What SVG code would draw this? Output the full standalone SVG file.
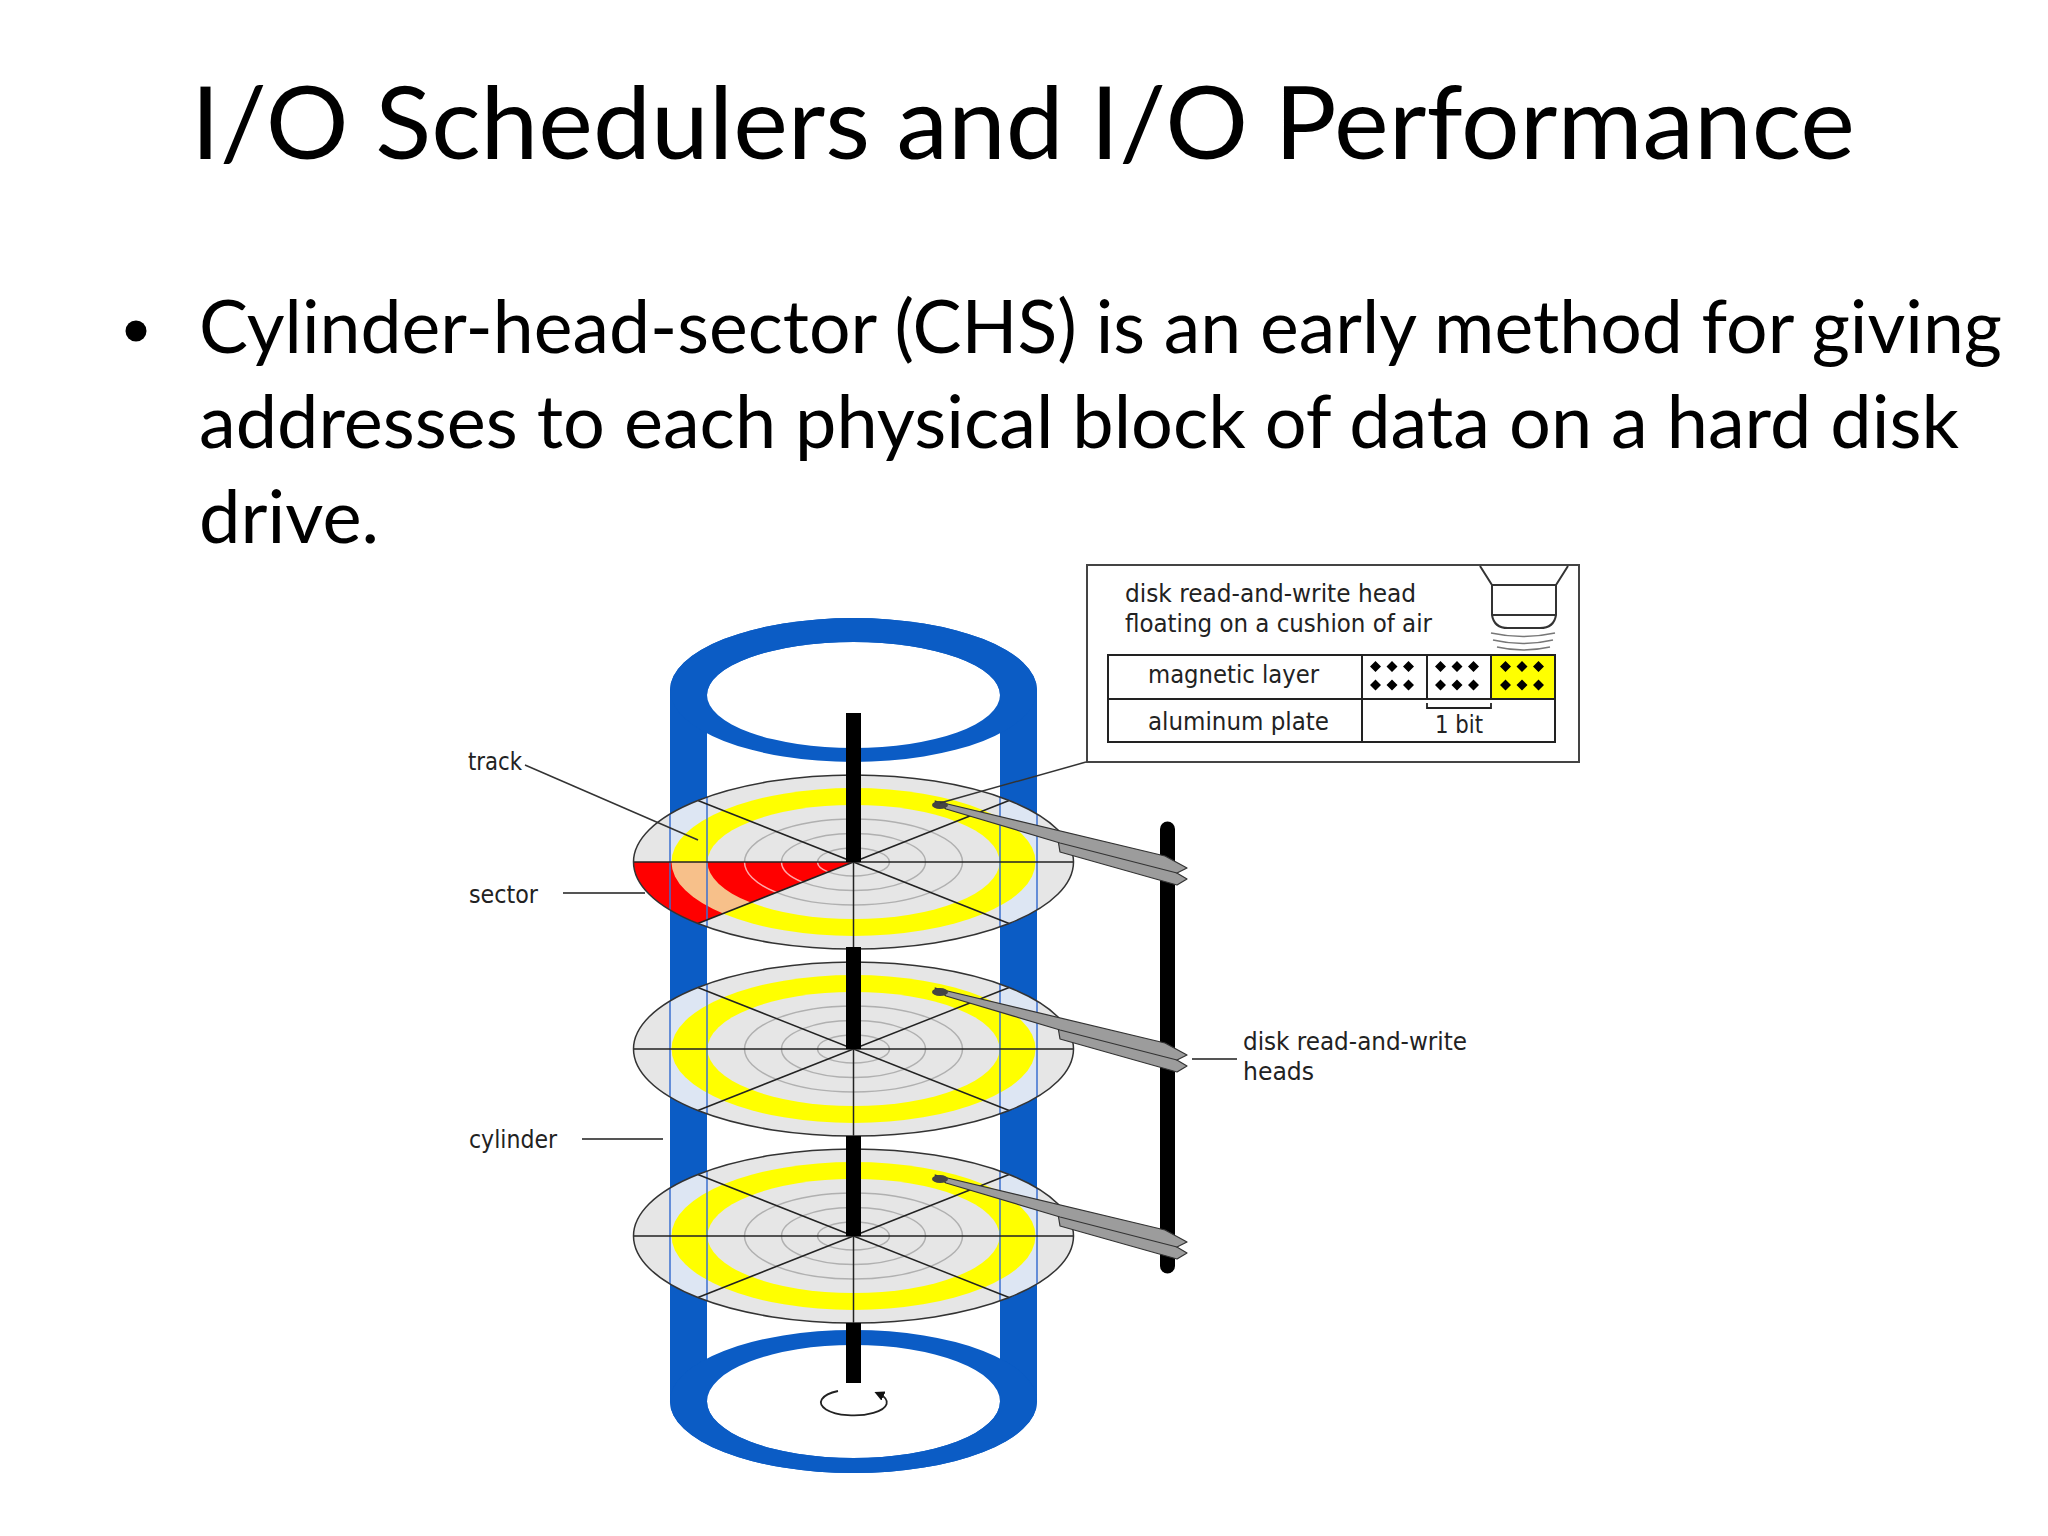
<svg xmlns="http://www.w3.org/2000/svg" xmlns:xlink="http://www.w3.org/1999/xlink" width="2048" height="1536" viewBox="0 0 2048 1536">
<style>
.title{font-family:Lato,"Open Sans","Liberation Sans",sans-serif;font-size:100px;fill:#000}
.body{font-family:Lato,"Open Sans","Liberation Sans",sans-serif;font-size:73px;fill:#000}
.lbl{font-family:"DejaVu Sans Condensed","DejaVu Sans","Liberation Sans",sans-serif;font-size:24px;fill:#222}
.lbl23{font-size:25px}
.lead{stroke:#555;stroke-width:2.2;fill:none}
.thin{stroke:#333;stroke-width:1.5;fill:none}
.blue{fill:#0b5cc5}
.plate{fill:#9c9c9c;stroke:#333;stroke-width:1.2;stroke-linejoin:round}
.spindle{stroke:#000;stroke-width:15}
.dia{fill:#000}
.tbl{stroke:#222;stroke-width:2;fill:none}
</style>
<defs>
  <clipPath id="pclip"><ellipse cx="0" cy="0" rx="220" ry="87"/></clipPath>
  <clipPath id="sectorClip"><path d="M0,0 L-220,0 A220,87 0 0,0 -155.6,61.5 Z"/></clipPath>
  <g id="pfill">
    <ellipse cx="0" cy="0" rx="220" ry="87" fill="#e6e6e6"/>
    <g clip-path="url(#pclip)">
      <rect x="-183.5" y="-90" width="37" height="180" fill="#dde6f3"/>
      <rect x="146.5" y="-90" width="37" height="180" fill="#dde6f3"/>
    </g>
    <ellipse cx="0" cy="0" rx="182" ry="74" fill="#ffff00"/>
    <ellipse cx="0" cy="0" rx="146" ry="57" fill="#e6e6e6"/>
    <g fill="none" stroke="#b0b0b0" stroke-width="1.5">
      <ellipse cx="0" cy="0" rx="109" ry="43"/>
      <ellipse cx="0" cy="0" rx="72" ry="28.5"/>
      <ellipse cx="0" cy="0" rx="36" ry="14"/>
    </g>
  </g>
  <g id="plines">
    <g stroke="#3a6fd0" stroke-width="1.5">
      <line x1="-183.5" y1="-48" x2="-183.5" y2="48"/>
      <line x1="-146.5" y1="-65" x2="-146.5" y2="65"/>
      <line x1="146.5" y1="-65" x2="146.5" y2="65"/>
      <line x1="183.5" y1="-48" x2="183.5" y2="48"/>
    </g>
    <g stroke="#222" stroke-width="1.5">
      <line x1="-220" y1="0" x2="220" y2="0"/>
      <line x1="0" y1="-87" x2="0" y2="87"/>
      <line x1="-155.6" y1="-61.5" x2="155.6" y2="61.5"/>
      <line x1="-155.6" y1="61.5" x2="155.6" y2="-61.5"/>
    </g>
    <ellipse cx="0" cy="0" rx="220" ry="87" fill="none" stroke="#333" stroke-width="1.5"/>
  </g>
  <g id="arm">
    <path class="plate" d="M1058,840 L1165,866 L1187,879 L1177,885 L1060,852 Z"/>
    <path class="plate" d="M935,801 L1165,856 L1187,868 L1177,873 L1060,843 L946,809 Z"/>
    <ellipse cx="940" cy="805" rx="8" ry="4" fill="#444"/>
  </g>
  <marker id="arr" viewBox="0 0 10 10" refX="5" refY="5" markerWidth="10" markerHeight="10" markerUnits="userSpaceOnUse" orient="auto">
    <path d="M0,0 L10,5 L0,10 Z" fill="#111"/>
  </marker>
</defs>
<rect x="0" y="0" width="2048" height="1536" fill="#fff"/>

<g id="title">
  <text class="title" x="191" y="159" textLength="1664" lengthAdjust="spacingAndGlyphs">I/O Schedulers and I/O Performance</text>
</g>

<g id="bullet">
  <circle cx="136" cy="331" r="10.5" fill="#000"/>
  <text class="body" x="199" y="353" textLength="1803" lengthAdjust="spacingAndGlyphs">Cylinder-head-sector (CHS) is an early method for giving</text>
  <text class="body" x="199" y="448" textLength="1760" lengthAdjust="spacingAndGlyphs">addresses to each physical block of data on a hard disk</text>
  <text class="body" x="199" y="543" textLength="180" lengthAdjust="spacingAndGlyphs">drive.</text>
</g>

<g id="cylinder">
  <ellipse cx="853.5" cy="690" rx="183.5" ry="72" class="blue"/>
  <rect x="670" y="690" width="367" height="711.5" class="blue"/>
  <ellipse cx="853.5" cy="1401.5" rx="183.5" ry="71.5" class="blue"/>
  <ellipse cx="853.5" cy="695" rx="146.5" ry="53" fill="#fff"/>
  <rect x="707" y="695" width="293" height="706.5" fill="#fff"/>
  <ellipse cx="853.5" cy="1401.5" rx="146.5" ry="56.5" fill="#fff"/>
  <path class="blue" fill-rule="evenodd" d="M670,690 A183.5,72 0 1,0 1037,690 A183.5,72 0 1,0 670,690 Z M707,695 A146.5,53 0 1,0 1000,695 A146.5,53 0 1,0 707,695 Z"/>
  <path class="blue" fill-rule="evenodd" d="M670,1401.5 A183.5,71.5 0 1,0 1037,1401.5 A183.5,71.5 0 1,0 670,1401.5 Z M707,1401.5 A146.5,56.5 0 1,0 1000,1401.5 A146.5,56.5 0 1,0 707,1401.5 Z"/>
</g>

<g id="platter-1">
  <g transform="translate(853.5,862)">
    <use xlink:href="#pfill" href="#pfill"/>
    <g clip-path="url(#sectorClip)">
      <rect x="-230" y="0" width="240" height="100" fill="#ff0000"/>
      <path fill="#f7c08a" fill-rule="evenodd" d="M-182,0 A182,74 0 1,0 182,0 A182,74 0 1,0 -182,0 Z M-146,0 A146,57 0 1,0 146,0 A146,57 0 1,0 -146,0 Z"/>
      <g fill="none" stroke="#ffa8a8" stroke-width="1.5">
        <ellipse cx="0" cy="0" rx="109" ry="43"/>
        <ellipse cx="0" cy="0" rx="72" ry="28.5"/>
        <ellipse cx="0" cy="0" rx="36" ry="14"/>
      </g>
    </g>
    <use xlink:href="#plines" href="#plines"/>
  </g>
  <line class="spindle" x1="853.5" y1="713" x2="853.5" y2="862"/>
</g>

<g id="platter-2">
  <g transform="translate(853.5,1049)">
    <use xlink:href="#pfill" href="#pfill"/>
    <use xlink:href="#plines" href="#plines"/>
  </g>
  <line class="spindle" x1="853.5" y1="947" x2="853.5" y2="1049"/>
</g>

<g id="platter-3">
  <g transform="translate(853.5,1236)">
    <use xlink:href="#pfill" href="#pfill"/>
    <use xlink:href="#plines" href="#plines"/>
  </g>
  <line class="spindle" x1="853.5" y1="1136" x2="853.5" y2="1236"/>
</g>

<g id="spindle-bottom">
  <line class="spindle" x1="853.5" y1="1323" x2="853.5" y2="1383"/>
  <path d="M838,1391 A33,13 0 1,0 879,1394" fill="none" stroke="#222" stroke-width="1.8" marker-end="url(#arr)"/>
</g>

<g id="heads">
  <line x1="1167.5" y1="829" x2="1167.5" y2="1266" stroke="#000" stroke-width="15" stroke-linecap="round"/>
  <use xlink:href="#arm" href="#arm"/>
  <use xlink:href="#arm" href="#arm" transform="translate(0,187)"/>
  <use xlink:href="#arm" href="#arm" transform="translate(0,374)"/>
</g>

<g id="connectors">
  <path class="thin" d="M525,765 L698,840"/>
  <path class="lead" d="M563,893 L645,893"/>
  <path class="lead" d="M582,1139 L663,1139"/>
  <path class="lead" d="M1192,1059 L1237,1059"/>
  <path class="thin" d="M940,803 L1086,762"/>
  <path class="thin" d="M1417,593 L1486,621"/>
</g>

<g id="label-track"><text class="lbl" x="468" y="770" textLength="54" lengthAdjust="spacingAndGlyphs">track</text></g>
<g id="label-sector"><text class="lbl" x="469" y="903" textLength="69" lengthAdjust="spacingAndGlyphs">sector</text></g>
<g id="label-cylinder"><text class="lbl" x="469" y="1148" textLength="88" lengthAdjust="spacingAndGlyphs">cylinder</text></g>
<g id="label-heads">
  <text class="lbl lbl23" x="1243" y="1050" textLength="224" lengthAdjust="spacingAndGlyphs">disk read-and-write</text>
  <text class="lbl lbl23" x="1243" y="1080" textLength="71" lengthAdjust="spacingAndGlyphs">heads</text>
</g>

<g id="inset">
  <rect x="1087" y="565" width="492" height="197" fill="#fff" stroke="#444" stroke-width="2"/>
  <text class="lbl lbl23" x="1125" y="602" textLength="291" lengthAdjust="spacingAndGlyphs">disk read-and-write head</text>
  <text class="lbl lbl23" x="1125" y="632" textLength="307" lengthAdjust="spacingAndGlyphs">floating on a cushion of air</text>
  <path d="M1480,566 L1492,585 L1492,615 Q1494,628 1508,628 L1540,628 Q1554,628 1556,615 L1556,585 L1568,566 M1492,585 L1556,585 M1492,615 L1556,615" fill="#fff" stroke="#333" stroke-width="2"/>
  <g fill="none" stroke="#777" stroke-width="1.5">
    <path d="M1491,633 Q1523,640 1555,633"/>
    <path d="M1493,640 Q1523,647 1553,640"/>
    <path d="M1497,647 Q1523,653 1550,647"/>
  </g>
  <rect x="1491" y="655" width="64" height="44" fill="#ffff00"/>
  <rect class="tbl" x="1108" y="655" width="447" height="87"/>
  <path class="tbl" d="M1108,699 L1555,699 M1362,655 L1362,742 M1427,655 L1427,699 M1491,655 L1491,699"/>
  <g class="dia">
    <path d="M1375.5,661 l5.5,5.5 l-5.5,5.5 l-5.5,-5.5 Z M1392,661 l5.5,5.5 l-5.5,5.5 l-5.5,-5.5 Z M1408.5,661 l5.5,5.5 l-5.5,5.5 l-5.5,-5.5 Z"/>
    <path d="M1375.5,679.5 l5.5,5.5 l-5.5,5.5 l-5.5,-5.5 Z M1392,679.5 l5.5,5.5 l-5.5,5.5 l-5.5,-5.5 Z M1408.5,679.5 l5.5,5.5 l-5.5,5.5 l-5.5,-5.5 Z"/>
    <path d="M1440.5,661 l5.5,5.5 l-5.5,5.5 l-5.5,-5.5 Z M1457,661 l5.5,5.5 l-5.5,5.5 l-5.5,-5.5 Z M1473.5,661 l5.5,5.5 l-5.5,5.5 l-5.5,-5.5 Z"/>
    <path d="M1440.5,679.5 l5.5,5.5 l-5.5,5.5 l-5.5,-5.5 Z M1457,679.5 l5.5,5.5 l-5.5,5.5 l-5.5,-5.5 Z M1473.5,679.5 l5.5,5.5 l-5.5,5.5 l-5.5,-5.5 Z"/>
    <path d="M1505.5,661 l5.5,5.5 l-5.5,5.5 l-5.5,-5.5 Z M1522,661 l5.5,5.5 l-5.5,5.5 l-5.5,-5.5 Z M1538.5,661 l5.5,5.5 l-5.5,5.5 l-5.5,-5.5 Z"/>
    <path d="M1505.5,679.5 l5.5,5.5 l-5.5,5.5 l-5.5,-5.5 Z M1522,679.5 l5.5,5.5 l-5.5,5.5 l-5.5,-5.5 Z M1538.5,679.5 l5.5,5.5 l-5.5,5.5 l-5.5,-5.5 Z"/>
  </g>
  <path d="M1427,703 L1427,708 L1491,708 L1491,703" fill="none" stroke="#222" stroke-width="1.8"/>
  <text class="lbl" x="1148" y="683" textLength="171" lengthAdjust="spacingAndGlyphs">magnetic layer</text>
  <text class="lbl" x="1148" y="730" textLength="181" lengthAdjust="spacingAndGlyphs">aluminum plate</text>
  <text class="lbl" x="1435" y="733" textLength="48" lengthAdjust="spacingAndGlyphs">1 bit</text>
</g>
</svg>
